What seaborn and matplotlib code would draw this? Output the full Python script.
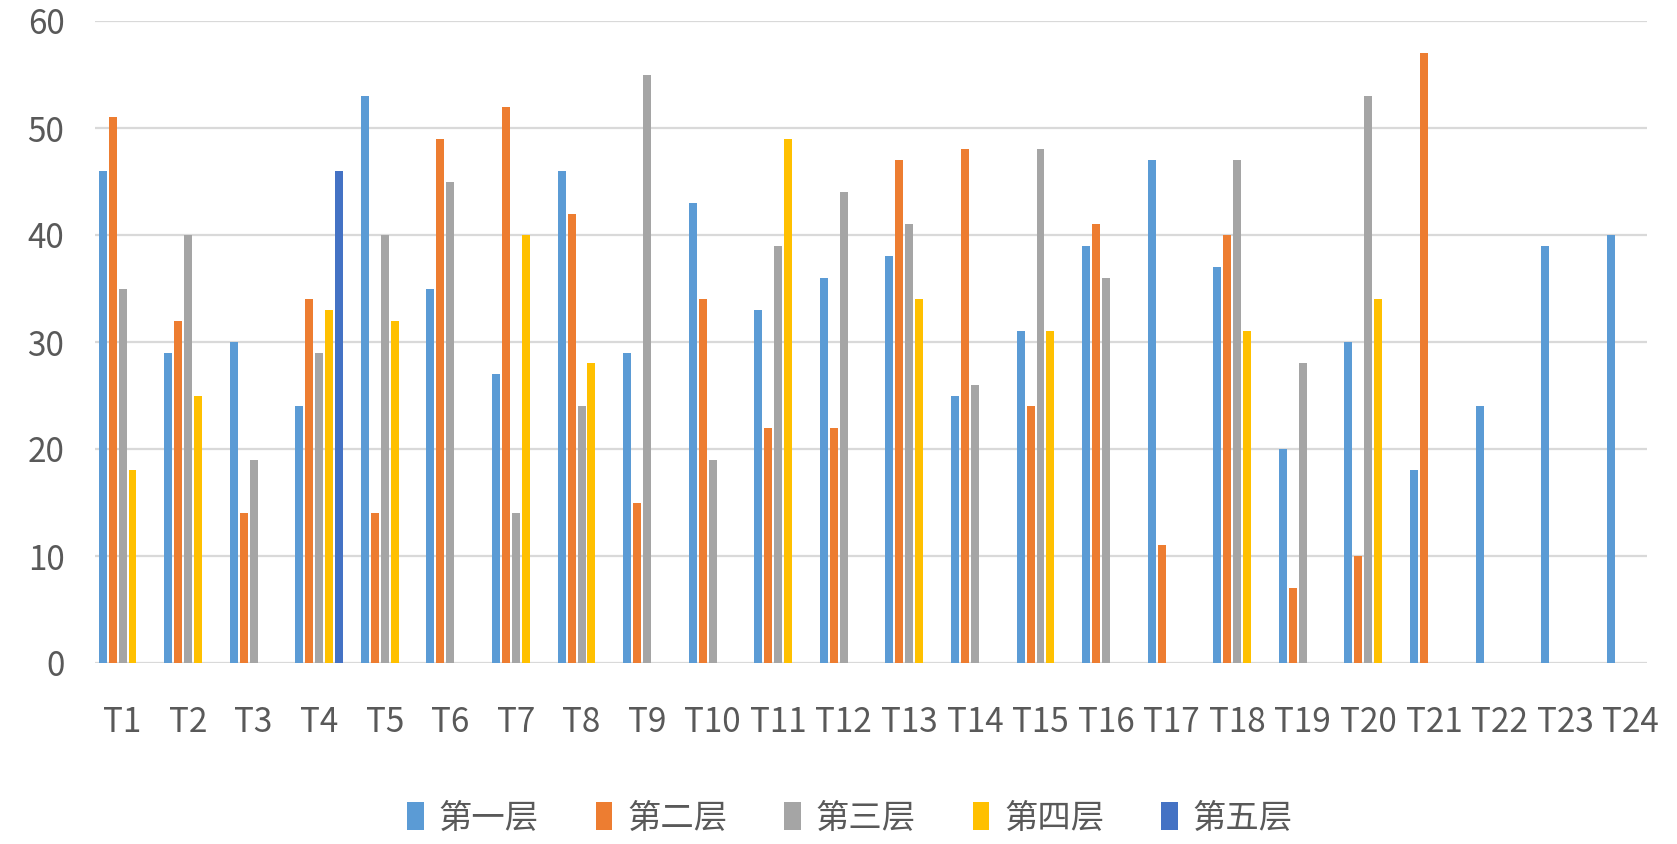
import numpy as np
import pandas as pd
import matplotlib
matplotlib.use("Agg")
import matplotlib.pyplot as plt
from matplotlib.patches import Patch
import seaborn as sns

categories = [f"T{i}" for i in range(1, 25)]
series_names = ["第一层", "第二层", "第三层", "第四层", "第五层"]
nan = np.nan
layer1 = [46, 29, 30, 24, 53, 35, 27, 46, 29, 43, 33, 36, 38, 25, 31, 39, 47, 37, 20, 30, 18, 24, 39, 40]
layer2 = [51, 32, 14, 34, 14, 49, 52, 42, 15, 34, 22, 22, 47, 48, 24, 41, 11, 40, 7, 10, 57, nan, nan, nan]
layer3 = [35, 40, 19, 29, 40, 45, 14, 24, 55, 19, 39, 44, 41, 26, 48, 36, nan, 47, 28, 53, nan, nan, nan, nan]
layer4 = [18, 25, nan, 33, 32, nan, 40, 28, nan, nan, 49, nan, 34, nan, 31, nan, nan, 31, nan, 34, nan, nan, nan, nan]
layer5 = [nan, nan, nan, 46, nan, nan, nan, nan, nan, nan, nan, nan, nan, nan, nan, nan, nan, nan, nan, nan, nan, nan, nan, nan]
colors = ["#5B9BD5", "#ED7D31", "#A5A5A5", "#FFC000", "#4472C4"]

rows = []
for name, vals in zip(series_names, [layer1, layer2, layer3, layer4, layer5]):
    for c, v in zip(categories, vals):
        rows.append({"cat": c, "layer": name, "value": v})
df = pd.DataFrame(rows)

sns.set_theme(style="white")
plt.rcParams['font.family'] = ['Noto Sans CJK SC', 'DejaVu Sans']

fig = plt.figure(figsize=(16.77, 8.44), dpi=100)
ax = fig.add_axes([95 / 1677, (844 - 663) / 844, (1647 - 95) / 1677, (663 - 21) / 844])

sns.barplot(data=df, x="cat", y="value", hue="layer", order=categories,
            hue_order=series_names, palette=colors, width=0.76, gap=0.2,
            errorbar=None, ax=ax, legend=False, linewidth=0, saturation=1)

ax.set_ylim(0, 60)
ax.set_xlim(-0.42, 23.25)
ax.set_yticks(range(0, 61, 10))
ax.yaxis.grid(True, color="#D9D9D9", linewidth=1.6)
ax.set_axisbelow(True)
for s in ax.spines.values():
    s.set_visible(False)
ax.set_xlabel("")
ax.set_ylabel("")
ax.tick_params(axis="both", length=0, labelsize=24, colors="#595959")
ax.tick_params(axis="x", pad=30)
ax.tick_params(axis="y", pad=22)

handles = [Patch(facecolor=c, edgecolor="none") for c in colors]
fig.legend(handles, series_names, loc="center", bbox_to_anchor=(850 / 1677, 1 - 818 / 844),
           ncol=5, frameon=False, fontsize=24, handlelength=0.5, handleheight=0.9,
           handletextpad=0.45, columnspacing=1.7, labelcolor="#595959")

fig.savefig("out.png", dpi=100, facecolor="white")
